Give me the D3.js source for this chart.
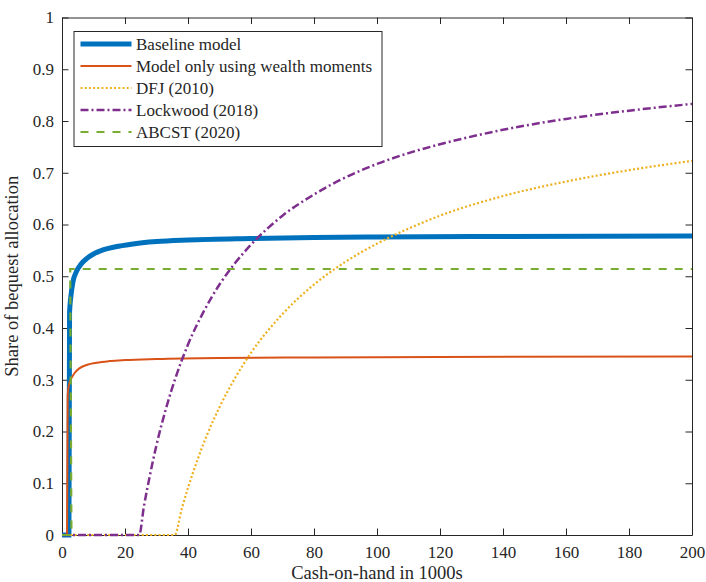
<!DOCTYPE html>
<html>
<head>
<meta charset="utf-8">
<script src="https://cdn.jsdelivr.net/npm/d3@7"></script>
<style>
  body { margin: 0; background: #fff; }
  text { font-family: "Liberation Serif", "Times New Roman", serif; fill: #262626; }
</style>
</head>
<body>
<svg id="mainsvg" width="706" height="582"></svg>
<script>
// data: [cash-on-hand in 1000s, share]
const baseline = [[0,0],[2.2,0],[2.4,0.43],[2.8,0.46],[3.5,0.49],[4.5,0.508],[6,0.523],[8,0.535],[10,0.543],[13,0.551],[17,0.557],[22,0.562],[30,0.567],[40,0.57],[60,0.573],[80,0.575],[100,0.576],[140,0.577],[200,0.578]]
const wealthOnly = [[0,0],[1.6,0],[1.8,0.27],[2.2,0.29],[3,0.303],[4,0.313],[5.5,0.322],[8,0.329],[11,0.333],[15,0.336],[20,0.338],[30,0.34],[50,0.342],[80,0.343],[120,0.344],[200,0.345]]
const dfj = [[0,0],[35.8,0],[38,0.05],[40,0.091],[43,0.145],[46,0.193],[50,0.247],[55,0.304],[60,0.352],[70,0.427],[80,0.484],[90,0.528],[100,0.563],[110,0.592],[120,0.617],[140,0.655],[160,0.683],[180,0.705],[200,0.723]]
const lockwood = [[0,0],[24.5,0],[26,0.055],[28,0.118],[30,0.174],[33,0.244],[36,0.303],[40,0.368],[45,0.432],[50,0.484],[55,0.526],[60,0.561],[70,0.617],[80,0.658],[90,0.691],[100,0.717],[110,0.738],[120,0.755],[140,0.783],[160,0.804],[180,0.82],[200,0.833]]
const abcst = [[0,0],[3,0],[2.6,0.514],[200,0.514]]

const seriesNames = ["Baseline model", "Model only using wealth moments", "DFJ (2010)", "Lockwood (2018)", "ABCST (2020)"]
const xTicks = [0, 20, 40, 60, 80, 100, 120, 140, 160, 180, 200]
const yTicks = [0, 0.1, 0.2, 0.3, 0.4, 0.5, 0.6, 0.7, 0.8, 0.9, 1]

const series = [
    { name: seriesNames[0], data: baseline, color: "#0072BD", width: 5, dash: null, curve: d3.curveMonotoneX },
    { name: seriesNames[1], data: wealthOnly, color: "#D95319", width: 2, dash: null, curve: d3.curveMonotoneX },
    { name: seriesNames[2], data: dfj, color: "#EDB120", width: 2.2, dash: "2,2.2", curve: d3.curveMonotoneX },
    { name: seriesNames[3], data: lockwood, color: "#7E2F8E", width: 2.5, dash: "8,3,2,3", curve: d3.curveMonotoneX },
    { name: seriesNames[4], data: abcst, color: "#77AC30", width: 2.2, dash: "8,8", curve: d3.curveLinear },
]

const svg = d3.select('#mainsvg')
const margin = { top: 17.5, right: 14, bottom: 47, left: 62 }
const width = +svg.attr("width")
const height = +svg.attr("height")
const innerWidth = width - margin.left - margin.right
const innerHeight = height - margin.top - margin.bottom

const xScale = d3.scaleLinear().domain([0, 200]).range([0, innerWidth])
const yScale = d3.scaleLinear().domain([0, 1]).range([innerHeight, 0])

const g = svg.append('g').attr("transform", `translate(${margin.left}, ${margin.top})`)

// axes, ticks pointing inward like matlab
const tl = 6.5
const fmt = d => d === 0 ? "0" : d === 1 ? "1" : String(d)
const xAxis = d3.axisBottom(xScale).tickValues(xTicks).tickSizeInner(-tl).tickSizeOuter(0).tickPadding(11)
const yAxis = d3.axisLeft(yScale).tickValues(yTicks).tickSizeInner(-tl).tickSizeOuter(0).tickPadding(8).tickFormat(fmt)
const xTop = d3.axisTop(xScale).tickValues(xTicks).tickSizeInner(-tl).tickSizeOuter(0)
const yRight = d3.axisRight(yScale).tickValues(yTicks).tickSizeInner(-tl).tickSizeOuter(0)

g.append("g").attr("transform", `translate(0, ${innerHeight})`).call(xAxis)
g.append("g").call(yAxis)
g.append("g").attr("class", "mirror").call(xTop)
g.append("g").attr("class", "mirror").attr("transform", `translate(${innerWidth}, 0)`).call(yRight)
g.selectAll(".mirror .tick text").remove()
g.selectAll("g").attr("font-family", null).attr("font-size", null)
g.selectAll(".domain, .tick line").attr("stroke", "#262626").attr("stroke-width", 1)
g.selectAll(".tick text").style("font-size", "17px").style("font-family", '"Liberation Serif", serif').attr("fill", "#262626")

// lines
const line = d3.line().x(d => xScale(d[0])).y(d => yScale(d[1]))
series.forEach(s => {
    g.append("path")
    .attr("d", line.curve(s.curve)(s.data))
    .attr("fill", "none")
    .attr("stroke", s.color)
    .attr("stroke-width", s.width)
    .attr("stroke-dasharray", s.dash)
})

// axis labels
g.append("text").text("Cash-on-hand in 1000s")
.attr("x", innerWidth / 2).attr("y", innerHeight + 44)
.attr("text-anchor", "middle").style("font-size", "18.5px")

g.append("text").text("Share of bequest allocation")
.attr("transform", `translate(${-44}, ${innerHeight / 2}) rotate(-90)`)
.attr("text-anchor", "middle").style("font-size", "18.5px")

// legend
const lg = g.append("g").attr("transform", `translate(12, 14)`)
lg.append("rect").attr("width", 308).attr("height", 115)
.attr("fill", "#fff").attr("stroke", "#262626").attr("stroke-width", 1)
series.forEach((s, i) => {
    const y = 12.5 + i * 22
    lg.append("line").attr("x1", 6.5).attr("x2", 57.5).attr("y1", y).attr("y2", y)
    .attr("stroke", s.color).attr("stroke-width", s.width).attr("stroke-dasharray", s.dash)
    lg.append("text").text(s.name).attr("x", 62).attr("y", y + 5.5).style("font-size", "17px")
})
</script>
</body>
</html>
